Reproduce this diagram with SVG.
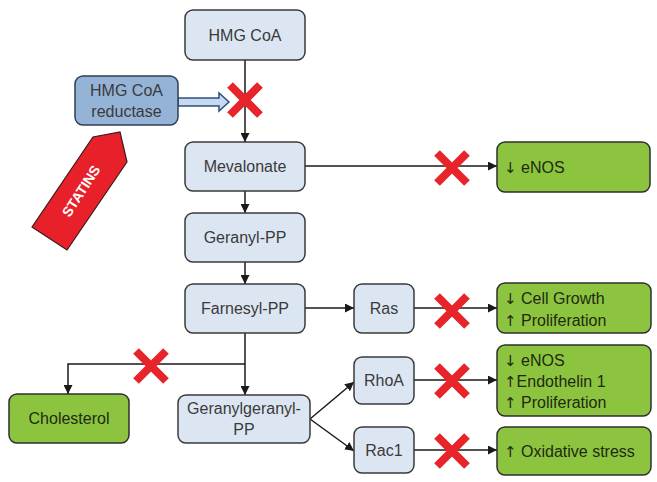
<svg xmlns="http://www.w3.org/2000/svg" width="657" height="482" viewBox="0 0 657 482">
<style>
.b{fill:#dce6f2;stroke:#3a3a3a;stroke-width:1.5}
.g{fill:#8cc43f;stroke:#2f2f2f;stroke-width:1.5}
.t{font-family:"Liberation Sans","DejaVu Sans",sans-serif;font-size:16px;fill:#3a3a3a;text-anchor:middle}
.tl{font-family:"Liberation Sans","DejaVu Sans",sans-serif;font-size:16px;fill:#1f2a10}
.ar{font-family:"DejaVu Sans",sans-serif;font-size:15px}
.c{stroke:#1a1a1a;stroke-width:1.5;fill:none}
.x{stroke:#e8242b;stroke-width:8;fill:none}
</style>
<defs>
<marker id="ah2" viewBox="0 0 10 10" refX="10" refY="5" markerWidth="9" markerHeight="9" orient="auto" markerUnits="userSpaceOnUse">
<path d="M0,0 L10,5 L0,10 Z" fill="#1a1a1a"/>
</marker>
<g id="xm"><path class="x" d="M-15,-15 L15,15 M15,-15 L-15,15"/></g>
</defs>

<g id="connectors">
<path class="c" d="M245,60 V142" marker-end="url(#ah2)"/>
<path class="c" d="M245,191 V213" marker-end="url(#ah2)"/>
<path class="c" d="M245,262 V284" marker-end="url(#ah2)"/>
<path class="c" d="M245,333 V395" marker-end="url(#ah2)"/>
<path class="c" d="M245,364 H68 V394" marker-end="url(#ah2)"/>
<path class="c" d="M305,166 H497" marker-end="url(#ah2)"/>
<path class="c" d="M305,308 H354" marker-end="url(#ah2)"/>
<path class="c" d="M414,308 H497" marker-end="url(#ah2)"/>
<path class="c" d="M414,380 H497" marker-end="url(#ah2)"/>
<path class="c" d="M414,450 H497" marker-end="url(#ah2)"/>
<path class="c" d="M310,419 L354,382" marker-end="url(#ah2)"/>
<path class="c" d="M310,419 L354,451" marker-end="url(#ah2)"/>
<path d="M178,98 H219 V93 L229,102 L219,111 V106 H178 Z" fill="#c6d9f1" stroke="#2f4f7f" stroke-width="1.5"/>
</g>

<g id="inhibitors">
<use href="#xm" x="245" y="100"/>
<use href="#xm" x="452" y="168"/>
<use href="#xm" x="452" y="311"/>
<use href="#xm" x="452" y="381"/>
<use href="#xm" x="452" y="451"/>
<use href="#xm" x="151" y="366"/>
</g>

<g id="statins">
<polygon points="32,227 67,250 127,162 120,132 93,137" fill="#e8202a" stroke="#3a1a1a" stroke-width="1.2"/>
<text x="81" y="191" transform="rotate(-57 81 191)" font-family="Liberation Sans, DejaVu Sans, sans-serif" font-size="14" font-weight="bold" fill="#ffffff" text-anchor="middle" dominant-baseline="central">STATINS</text>
</g>

<g id="hmgcoa"><rect class="b" x="185" y="10" width="120" height="50" rx="8"/><text class="t" x="245" y="41">HMG CoA</text></g>
<g id="reductase"><rect x="75" y="76" width="103" height="49" rx="8" fill="#95b3d7" stroke="#2f3f55" stroke-width="1.5"/><text class="t" x="126.5" y="96">HMG CoA</text><text class="t" x="126.5" y="117">reductase</text></g>
<g id="mevalonate"><rect class="b" x="185" y="142" width="120" height="49" rx="8"/><text class="t" x="245" y="172">Mevalonate</text></g>
<g id="geranyl"><rect class="b" x="185" y="213" width="120" height="49" rx="8"/><text class="t" x="245" y="243">Geranyl-PP</text></g>
<g id="farnesyl"><rect class="b" x="185" y="284" width="120" height="49" rx="8"/><text class="t" x="245" y="314">Farnesyl-PP</text></g>
<g id="ggpp"><rect class="b" x="178" y="395" width="132" height="48" rx="8"/><text class="t" x="244" y="414">Geranylgeranyl-</text><text class="t" x="244" y="435">PP</text></g>
<g id="ras"><rect class="b" x="354" y="284" width="60" height="49" rx="8"/><text class="t" x="384" y="314">Ras</text></g>
<g id="rhoa"><rect class="b" x="354" y="357" width="60" height="47" rx="8"/><text class="t" x="384" y="386">RhoA</text></g>
<g id="rac1"><rect class="b" x="354" y="427" width="60" height="46" rx="8"/><text class="t" x="384" y="456">Rac1</text></g>
<g id="cholesterol"><rect class="g" x="9" y="394" width="120" height="49" rx="8"/><text class="t" x="69" y="424" style="fill:#1f2a10">Cholesterol</text></g>
<g id="enos"><rect class="g" x="497" y="142" width="153" height="50" rx="8"/><text class="tl" x="504" y="173"><tspan class="ar">↓</tspan> eNOS</text></g>
<g id="cellgrowth"><rect class="g" x="497" y="283" width="154" height="50" rx="8"/><text class="tl" x="504" y="304"><tspan class="ar">↓</tspan> Cell Growth</text><text class="tl" x="504" y="326"><tspan class="ar">↑</tspan> Proliferation</text></g>
<g id="endothelin"><rect class="g" x="497" y="345" width="154" height="71" rx="8"/><text class="tl" x="504" y="366"><tspan class="ar">↓</tspan> eNOS</text><text class="tl" x="504" y="387"><tspan class="ar">↑</tspan>Endothelin 1</text><text class="tl" x="504" y="408"><tspan class="ar">↑</tspan> Proliferation</text></g>
<g id="oxidative"><rect class="g" x="497" y="427" width="154" height="48" rx="8"/><text class="tl" x="504" y="457"><tspan class="ar">↑</tspan> Oxidative  stress</text></g>
</svg>
